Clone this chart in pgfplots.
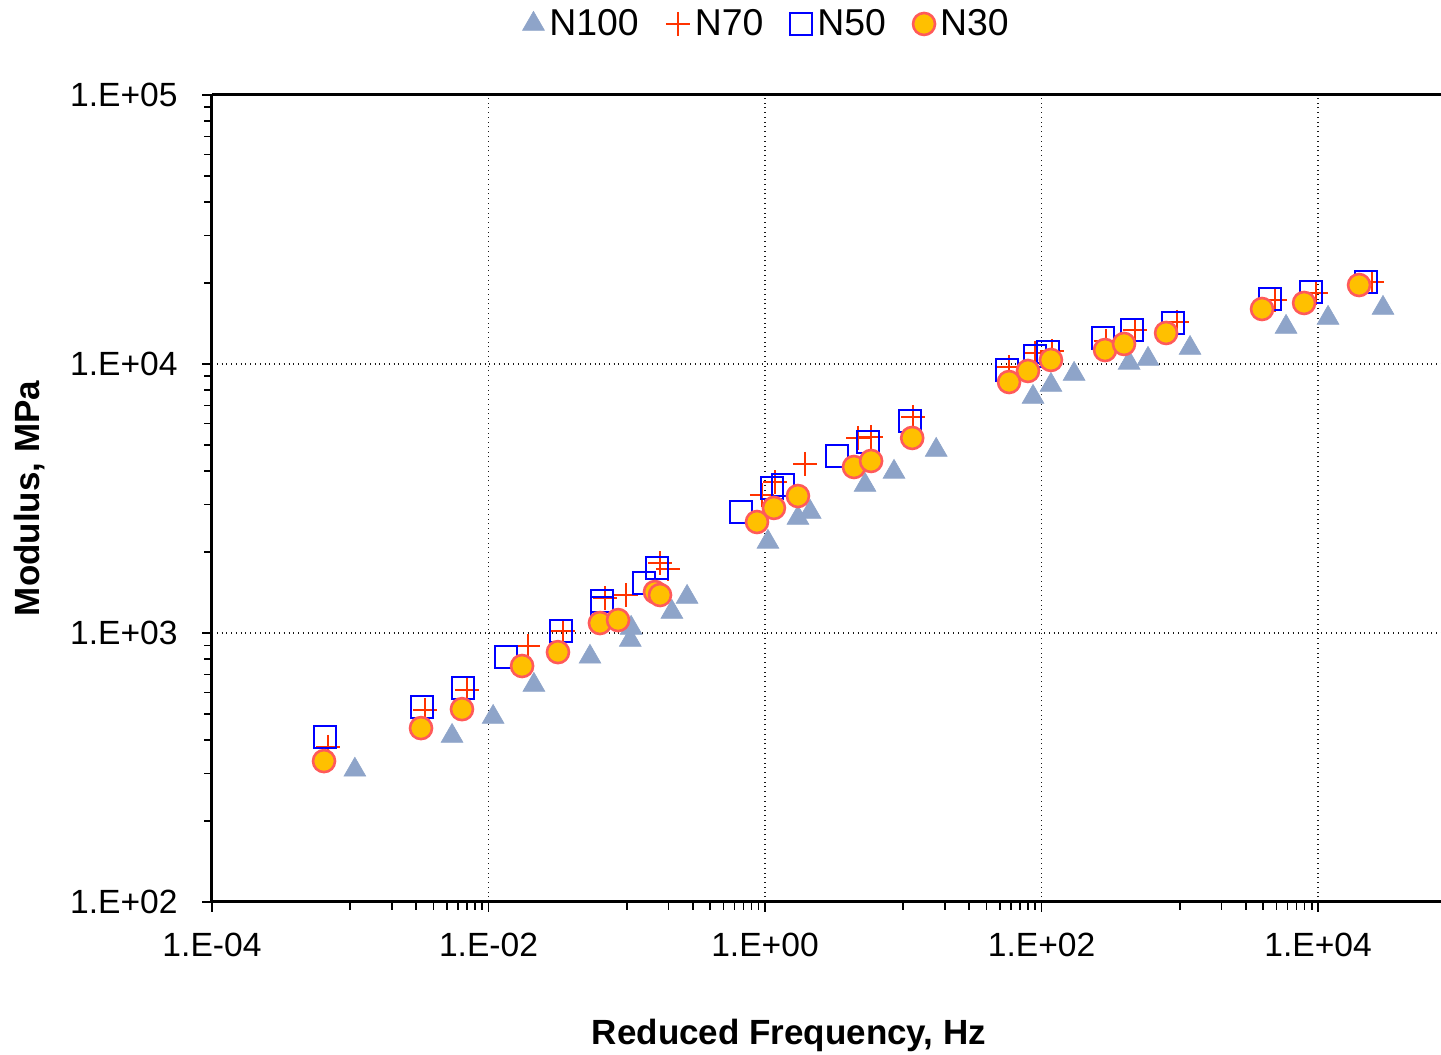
\documentclass[border=0pt]{standalone}
\usepackage{fontspec}
\setmainfont{Liberation Sans}
\usepackage{pgfplots}
\pgfplotsset{compat=1.18}
\definecolor{triC}{HTML}{8EA4C9}
\definecolor{plusC}{HTML}{FF3300}
\definecolor{sqC}{HTML}{0000FF}
\definecolor{cirF}{HTML}{FFC000}
\definecolor{cirD}{HTML}{FF5A5A}
\begin{document}
\begin{tikzpicture}
\begin{axis}[
  xmode=log, ymode=log,
  scale only axis, width=614.5bp, height=403.5bp,
  xmin=1e-4, xmax=7.75e4, ymin=1e2, ymax=1e5,
  axis x line=box, axis y line=left,
  axis line style={line width=1.5bp, black},
  every outer y axis line/.append style={-},
  every inner y axis line/.append style={-},
  y axis line style={-},
  xtick={1e-4,1e-2,1,1e2,1e4},
  xticklabels={1.E-04,1.E-02,1.E+00,1.E+02,1.E+04},
  ytick={1e2,1e3,1e4,1e5},
  yticklabels={1.E+02,1.E+03,1.E+04,1.E+05},
  minor xtick={1e-3,2e-3,3e-3,4e-3,5e-3,6e-3,7e-3,8e-3,9e-3,
               1e-1,2e-1,3e-1,4e-1,5e-1,6e-1,7e-1,8e-1,9e-1,
               10,20,30,40,50,60,70,80,90,
               1000,2000,3000,4000,5000,6000,7000,8000,9000},
  minor ytick={200,300,400,500,600,700,800,900,
               2000,3000,4000,5000,6000,7000,8000,9000,
               20000,30000,40000,50000,60000,70000,80000,90000},
  tick align=outside,
  xtick pos=left,
  major tick length=5bp, minor tick length=4bp,
  every tick/.style={black, line width=0.8bp},
  grid=major,
  major grid style={dotted, black!90, line width=0.7bp},
  minor grid style={draw=none},
  tick label style={font=\fontsize{16.8bp}{18bp}\selectfont},
  xticklabel style={anchor=center, yshift=-16.5bp},
  yticklabel style={anchor=east, inner sep=0pt, xshift=-12bp},
  xlabel={\bfseries Reduced Frequency, Hz},
  ylabel={\bfseries Modulus, MPa},
  label style={font=\fontsize{17.5bp}{19bp}\selectfont},
  xlabel style={at={(axis description cs:0.4695,-0.1648)}, anchor=center},
  ylabel style={at={(axis description cs:-0.1481,0.5)}, anchor=center},
  legend columns=4,
  legend style={at={(axis description cs:0.4525,1.0880)}, anchor=center,
    draw=none, fill=none, font=\fontsize{18.7bp}{20bp}\selectfont,
    /tikz/every even column/.append style={column sep=11bp}},
  legend image code/.code={\draw[mark repeat=2,mark phase=2,#1] plot coordinates {(0bp,0bp)(5bp,0bp)(10bp,0bp)};},
  legend style={nodes={inner sep=2.5bp}},
]
% N100
\addplot[only marks, mark=triangle*, mark size=6.3bp, color=triC, mark options={fill=triC, draw=triC, line width=0.3bp}] coordinates {
(1.08e-3,310) (5.45e-3,414) (0.0108,487) (0.0213,641) (0.0542,815)
(0.1075,1044) (0.106,942) (0.212,1197) (0.273,1361)
(1.05,2180) (1.73,2677) (2.12,2817) (5.29,3548) (8.57,3970) (17.3,4790)
(86.8,7540) (117,8350) (172,9180) (430,10090) (589,10440) (1186,11460)
(5870,13730) (11810,14830) (29500,16150)
};
\addlegendentry{N100}
% N70
\addplot[only marks, mark=+, mark size=6bp, color=plusC, mark options={line width=1.1bp}] coordinates {
(6.90e-4,377) (3.48e-3,517) (6.98e-3,614) (0.0193,895) (0.0346,1017)
(0.0697,1349) (0.0989,1384) (0.174,1820) (0.199,1729)
(0.950,3258) (1.18,3642) (1.95,4250) (4.71,5310) (5.85,5350) (11.8,6350)
(58.2,9740) (89.7,10990) (119,11180) (293,12180) (474,13370) (955,14330)
(4890,17300) (9680,18370) (24600,20170)
};
\addlegendentry{N70}
% N50
\addplot[only marks, mark=square, mark size=5.5bp, color=sqC, mark options={line width=1bp}] coordinates {
(6.56e-4,410) (3.30e-3,531) (6.55e-3,625) (0.0134,815) (0.0334,1017)
(0.0662,1315) (0.0662,1239) (0.133,1534) (0.166,1745)
(0.670,2818) (1.12,3460) (1.35,3548) (3.32,4550) (5.56,5130) (11.2,6140)
(56.3,9500) (89.7,10700) (111,11090) (279,12490) (452,13370) (893,14200)
(4500,17450) (8900,18520) (22250,20170)
};
\addlegendentry{N50}
% N30
\addplot[only marks, mark=*, mark size=5.5bp, mark options={fill=cirF, draw=cirD, line width=1.3bp}] coordinates {
(6.46e-4,334) (3.25e-3,443) (6.43e-3,521) (0.0175,754) (0.0318,849)
(0.0640,1089) (0.0865,1117) (0.160,1420) (0.174,1384)
(0.875,2586) (1.16,2917) (1.73,3230) (4.40,4140) (5.85,4360) (11.6,5310)
(58.2,8570) (79.8,9420) (117,10350) (288,11270) (395,11870) (796,13040)
(3935,16010) (7925,16860) (19800,19660)
};
\addlegendentry{N30}
\end{axis}
\pgfresetboundingbox
\path[use as bounding box] (-106bp,-76.5bp) rectangle (614.5bp,451bp);
\end{tikzpicture}
\end{document}
